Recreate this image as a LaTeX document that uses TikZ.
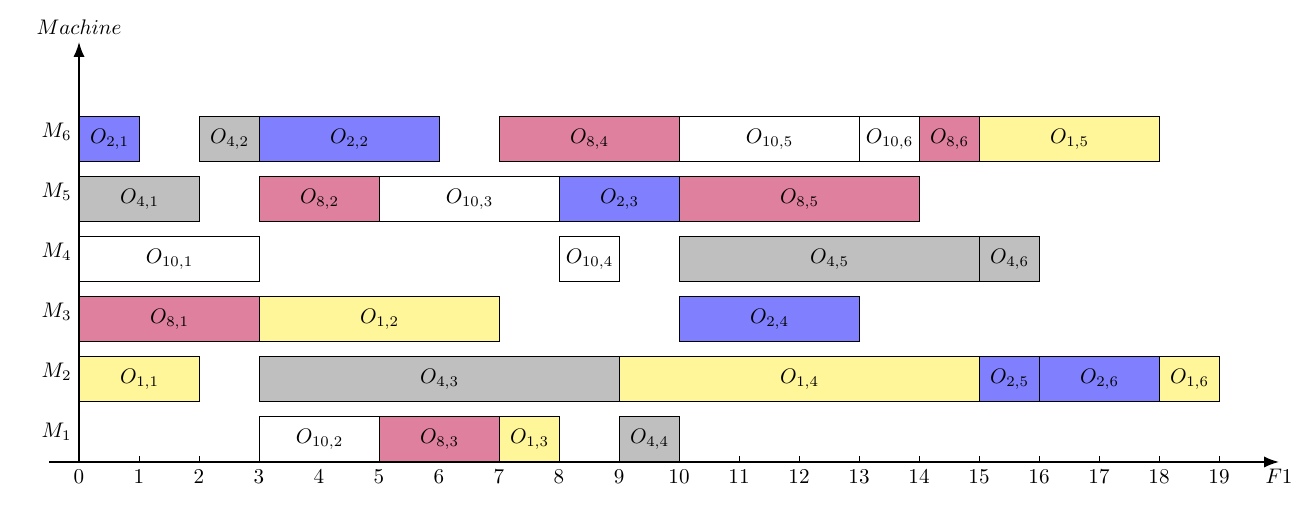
\documentclass[tikz,border=0pt]{standalone}
\usepackage{amsmath}
\usetikzlibrary{arrows.meta}

\definecolor{jobone}{RGB}{255,245,153}
\definecolor{jobtwo}{RGB}{128,128,255}
\definecolor{jobfour}{RGB}{191,191,191}
\definecolor{jobeight}{RGB}{223,128,159}
\definecolor{jobten}{RGB}{255,255,255}

\tikzset{
    opbox/.style={draw, semithick, anchor=south west, inner sep=0pt, minimum height=0.75cm},
    axisline/.style={thick, -{Latex[length=2.5mm]}}
}

\begin{document}
\begin{tikzpicture}
    \useasboundingbox (-1.317, -0.8) rectangle (20.5, 7.7);

    % axes
    \coordinate (origin) at (0, 0);
    \coordinate (xstart) at (-0.5, 0);
    \coordinate (xend) at (20, 0);
    \coordinate (yend) at (0, 7);
    \draw[axisline] (xstart) -- (xend);
    \draw[axisline] (origin) -- (yend);
    \node[below] (xlabel) at (xend) {$F1$};
    \node[above] (ylabel) at (yend) {$Machine$};

    % ticks
    \foreach \x in {0,...,19} {
        \draw (\x, 0) -- (\x, 0.1);
        \node[below] (tick\x) at (\x, 0) {$\x$};
    }

    % machines
    \foreach \m in {1,...,6} {
        \node[anchor=east] (mach\m) at (0, \m-0.5) {$M_{\m}$};
    }

    % operations: machine/start/end/job/op/colour
    \foreach \m/\s/\e/\j/\o/\c in {
        6/0/1/2/1/jobtwo, 6/2/3/4/2/jobfour, 6/3/6/2/2/jobtwo, 6/7/10/8/4/jobeight,
        6/10/13/10/5/jobten, 6/13/14/10/6/jobten, 6/14/15/8/6/jobeight, 6/15/18/1/5/jobone,
        5/0/2/4/1/jobfour, 5/3/5/8/2/jobeight, 5/5/8/10/3/jobten, 5/8/10/2/3/jobtwo,
        5/10/14/8/5/jobeight,
        4/0/3/10/1/jobten, 4/8/9/10/4/jobten, 4/10/15/4/5/jobfour, 4/15/16/4/6/jobfour,
        3/0/3/8/1/jobeight, 3/3/7/1/2/jobone, 3/10/13/2/4/jobtwo,
        2/0/2/1/1/jobone, 2/3/9/4/3/jobfour, 2/9/15/1/4/jobone, 2/15/16/2/5/jobtwo,
        2/16/18/2/6/jobtwo, 2/18/19/1/6/jobone,
        1/3/5/10/2/jobten, 1/5/7/8/3/jobeight, 1/7/8/1/3/jobone, 1/9/10/4/4/jobfour} {
        \node[opbox, fill=\c, minimum width={(\e-\s)*1cm}] (op\j-\o) at (\s, \m-1) {$O_{\j,\o}$};
    }
\end{tikzpicture}
\end{document}
